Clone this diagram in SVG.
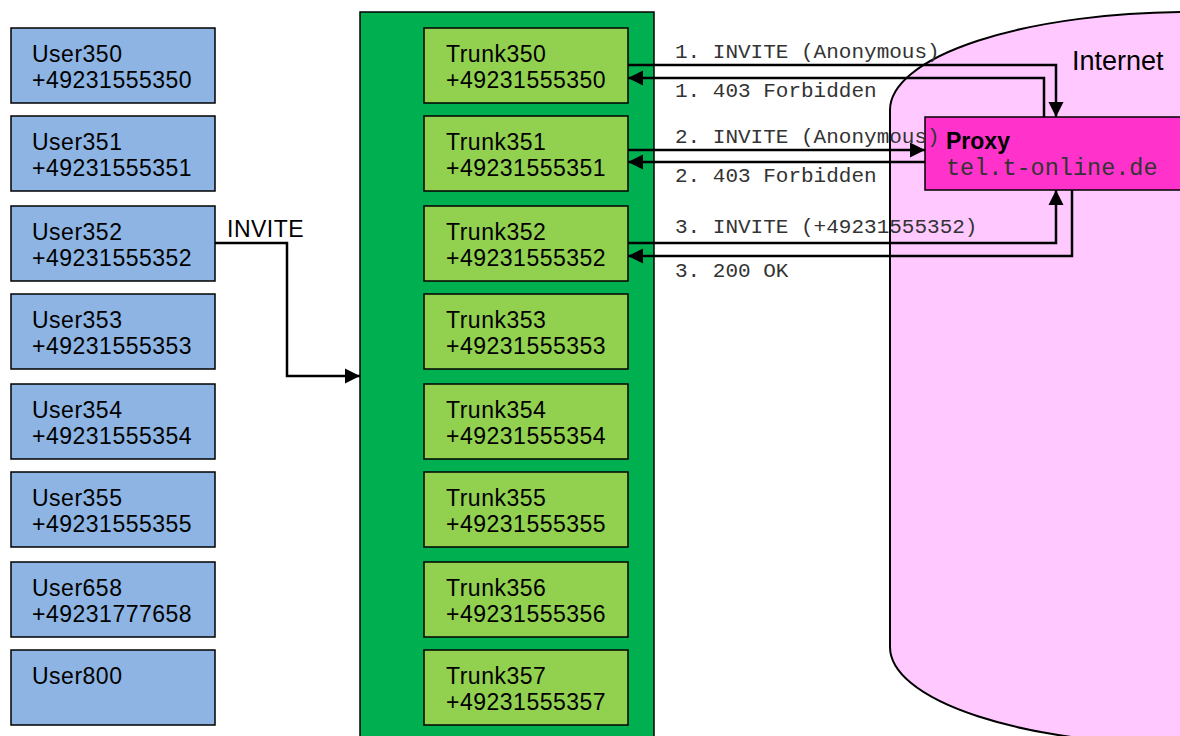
<svg xmlns="http://www.w3.org/2000/svg" width="1180" height="736" viewBox="0 0 1180 736">
  <style>
    .user { fill: #8DB4E2; stroke: #000; stroke-width: 1.5; }
    .trunk { fill: #92D050; stroke: #000; stroke-width: 1.5; }
    .lbl { font-family: "Liberation Sans", Arial, sans-serif; font-size: 23px; letter-spacing: 0.5px; fill: #000; }
    .mono { font-family: "Liberation Mono", "Courier New", monospace; font-size: 21px; fill: #333; }
    .wire { fill: none; stroke: #000; stroke-width: 2.5; }
  </style>
  <defs>
    <marker id="arrow" markerUnits="userSpaceOnUse" markerWidth="16" markerHeight="16" viewBox="0 0 16 16" refX="15" refY="8" orient="auto">
      <path d="M0,0.5 L15,8 L0,15.5 Z" fill="#000"/>
    </marker>
  </defs>
  <rect width="1180" height="736" fill="#fff"/>

  <!-- Internet cloud -->
  <g id="internet">
    <rect x="890" y="12" width="700" height="733" rx="300" ry="98" fill="#FFC9FF" stroke="#000" stroke-width="2"/>
    <text x="1072" y="70" font-family="Liberation Sans, Arial, sans-serif" font-size="27" fill="#000">Internet</text>
  </g>

  <!-- Trunk container -->
  <g id="pbx">
    <rect x="360" y="12" width="294" height="740" fill="#00B050" stroke="#000" stroke-width="1.5"/>
  </g>

  <!-- Users -->
  <g id="user350"><rect class="user" x="11" y="28" width="204" height="75"/><text class="lbl" x="32" y="62">User350</text><text class="lbl" x="32" y="88">+49231555350</text></g>
  <g id="user351"><rect class="user" x="11" y="116" width="204" height="75"/><text class="lbl" x="32" y="150">User351</text><text class="lbl" x="32" y="176">+49231555351</text></g>
  <g id="user352"><rect class="user" x="11" y="206" width="204" height="75"/><text class="lbl" x="32" y="240">User352</text><text class="lbl" x="32" y="266">+49231555352</text></g>
  <g id="user353"><rect class="user" x="11" y="294" width="204" height="75"/><text class="lbl" x="32" y="328">User353</text><text class="lbl" x="32" y="354">+49231555353</text></g>
  <g id="user354"><rect class="user" x="11" y="384" width="204" height="75"/><text class="lbl" x="32" y="418">User354</text><text class="lbl" x="32" y="444">+49231555354</text></g>
  <g id="user355"><rect class="user" x="11" y="472" width="204" height="75"/><text class="lbl" x="32" y="506">User355</text><text class="lbl" x="32" y="532">+49231555355</text></g>
  <g id="user658"><rect class="user" x="11" y="562" width="204" height="75"/><text class="lbl" x="32" y="596">User658</text><text class="lbl" x="32" y="622">+49231777658</text></g>
  <g id="user800"><rect class="user" x="11" y="650" width="204" height="75"/><text class="lbl" x="32" y="684">User800</text></g>

  <!-- Trunks -->
  <g id="trunk350"><rect class="trunk" x="424" y="28" width="204" height="75"/><text class="lbl" x="446" y="62">Trunk350</text><text class="lbl" x="446" y="88">+49231555350</text></g>
  <g id="trunk351"><rect class="trunk" x="424" y="116" width="204" height="75"/><text class="lbl" x="446" y="150">Trunk351</text><text class="lbl" x="446" y="176">+49231555351</text></g>
  <g id="trunk352"><rect class="trunk" x="424" y="206" width="204" height="75"/><text class="lbl" x="446" y="240">Trunk352</text><text class="lbl" x="446" y="266">+49231555352</text></g>
  <g id="trunk353"><rect class="trunk" x="424" y="294" width="204" height="75"/><text class="lbl" x="446" y="328">Trunk353</text><text class="lbl" x="446" y="354">+49231555353</text></g>
  <g id="trunk354"><rect class="trunk" x="424" y="384" width="204" height="75"/><text class="lbl" x="446" y="418">Trunk354</text><text class="lbl" x="446" y="444">+49231555354</text></g>
  <g id="trunk355"><rect class="trunk" x="424" y="472" width="204" height="75"/><text class="lbl" x="446" y="506">Trunk355</text><text class="lbl" x="446" y="532">+49231555355</text></g>
  <g id="trunk356"><rect class="trunk" x="424" y="562" width="204" height="75"/><text class="lbl" x="446" y="596">Trunk356</text><text class="lbl" x="446" y="622">+49231555356</text></g>
  <g id="trunk357"><rect class="trunk" x="424" y="650" width="204" height="75"/><text class="lbl" x="446" y="684">Trunk357</text><text class="lbl" x="446" y="710">+49231555357</text></g>

  <!-- Proxy -->
  <g id="proxy">
    <rect x="925" y="117" width="270" height="73" fill="#FF33CC" stroke="#000" stroke-width="1.5"/>
    <text x="946" y="149" font-family="Liberation Sans, Arial, sans-serif" font-size="23" font-weight="bold" fill="#000">Proxy</text>
    <text x="946" y="175" font-family="Liberation Mono, Courier New, monospace" font-size="23.5" fill="#333">tel.t-online.de</text>
  </g>

  <!-- Connectors -->
  <g id="connectors">
    <path class="wire" d="M215,243 H287 V376 H360" marker-end="url(#arrow)"/>
    <path class="wire" d="M628,65 H1056 V117" marker-end="url(#arrow)"/>
    <path class="wire" d="M1044,117 V78 H628" marker-end="url(#arrow)"/>
    <path class="wire" d="M628,150 H925" marker-end="url(#arrow)"/>
    <path class="wire" d="M925,162 H628" marker-end="url(#arrow)"/>
    <path class="wire" d="M628,243 H1056 V190" marker-end="url(#arrow)"/>
    <path class="wire" d="M1072,190 V256 H628" marker-end="url(#arrow)"/>
  </g>

  <!-- Labels -->
  <g id="labels">
    <text class="lbl" x="227" y="237">INVITE</text>
    <text class="mono" x="675" y="58">1. INVITE (Anonymous)</text>
    <text class="mono" x="675" y="97">1. 403 Forbidden</text>
    <text class="mono" x="675" y="143">2. INVITE (Anonymous)</text>
    <text class="mono" x="675" y="182">2. 403 Forbidden</text>
    <text class="mono" x="675" y="233">3. INVITE (+49231555352)</text>
    <text class="mono" x="675" y="277">3. 200 OK</text>
  </g>
</svg>
